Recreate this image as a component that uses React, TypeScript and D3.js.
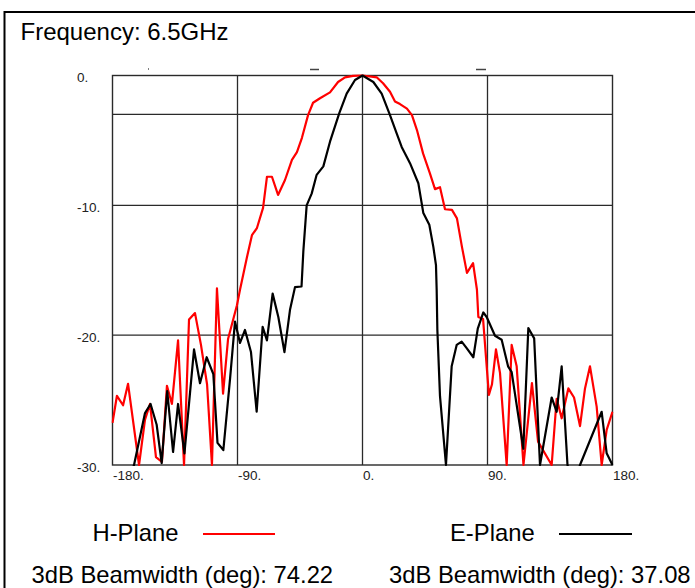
import React from "react";
import * as d3 from "d3";

// ---- Data ----
const hAngles = [-180,-176.8,-172.4,-168.8,-160.9,-156.6,-153,-148.7,-144.4,-140.8,-137.2,-132.8,-128.5,-124.9,-120.6,-116.3,-111.9,-108.4,-104.8,-100.4,-96.8,-90.4,-88.2,-83.2,-79.6,-76,-71.6,-68.8,-65.2,-60.8,-55.8,-50.8,-47.2,-43.6,-39.2,-35.6,-30.6,-23.4,-17.6,-12.6,-6.8,0,10.4,14.8,19.8,23.4,27,32,35.6,39.2,43.6,48.6,52.2,55.8,59.4,64.4,68,71.6,75.2,79.6,82.4,83.4,86.8,91,93.2,96.1,99,103.8,107.4,111,115.9,122,126.4,136.2,139.8,143.4,148.2,152.3,156.6,160.2,163.8,168.6,172.2,175.8,180];
const hValues = [-26.75,-24.67,-25.4,-23.75,-30,-26.5,-25.3,-29.4,-29.75,-23.9,-25.3,-20.4,-30,-18.8,-18.3,-20.75,-23.8,-30,-16.4,-24.5,-20.3,-17.7,-16.5,-14,-12.3,-11.75,-10.2,-7.8,-7.8,-9.2,-8.05,-6.5,-5.9,-4.8,-3.05,-2.1,-1.75,-1.3,-0.5,-0.15,-0.03,0,-0.15,-0.6,-1.25,-2.0,-2.2,-2.55,-3.05,-4.2,-6.0,-7.55,-8.75,-8.6,-10.3,-10.35,-11,-13.2,-15.2,-14.45,-16.5,-18.6,-18.75,-24.6,-23.8,-21.1,-22.9,-30,-20.75,-22.4,-30,-23.7,-28.2,-30,-24.9,-26.4,-24.1,-24.8,-27,-24.1,-22.4,-25.5,-30,-27.3,-25.9];

const eAngles = [-180,-170,-164.5,-156.6,-152.6,-148.2,-144.6,-140.6,-136.4,-132.8,-128.2,-121.3,-117,-112.2,-107.4,-104.4,-100.2,-95.4,-91.8,-88.2,-84.6,-80.3,-76.2,-71.9,-68.8,-64.7,-60.6,-56.2,-52.2,-48.6,-43.9,-42.6,-40.2,-36.6,-33,-28.2,-23.4,-16.7,-11.4,-5.4,0,7.8,13.8,19.8,24.6,28.2,34.2,40.2,43.8,48.1,51,52.9,53.4,53.9,55.8,60.1,64.2,67.8,71.4,75,79.8,83,87,89.4,95.4,100.2,104.8,107.4,115.8,119.4,123.6,127.8,136.2,139.8,143.4,147.6,151.6,156.6,172.2,175.8,180];
const eValues = [-33,-31.5,-30,-26,-25.3,-26.9,-29.85,-24.3,-29,-25.3,-29.1,-21.1,-23.7,-21.7,-23,-28.3,-28.85,-23.4,-18.95,-20.6,-19.6,-21.3,-25.9,-19.35,-20.4,-16.8,-18.6,-21.3,-18.05,-16.3,-16.25,-13.55,-10,-9.1,-7.65,-7.0,-5.1,-2.9,-1.4,-0.35,0,-0.5,-1.4,-3.05,-4.45,-5.5,-6.75,-8.3,-10.6,-11.5,-13.2,-14.6,-16.5,-19.6,-24.7,-30,-22.4,-20.75,-20.5,-21,-21.7,-19.5,-18.25,-18.6,-20.05,-20.35,-22.4,-22.85,-28.75,-19.45,-20.25,-30,-24.8,-25.9,-22.4,-30,-31.5,-30,-25.9,-29.1,-30];

const xTicks = [-180, -90, 0, 90, 180];
const xTickLabels = ["-180.", "-90.", "0.", "90.", "180."];
const yTicks = [0, -10, -20, -30];
const yTickLabels = ["0.", "-10.", "-20.", "-30."];
const xGrid = [-90, 0, 90];
const yGrid = [-3, -10, -20];

const title = "Frequency: 6.5GHz";
const seriesNames = ["H-Plane", "E-Plane"];
const beamwidths = ["74.22", "37.08"];

const FONT = "'Liberation Sans', Arial, Helvetica, sans-serif";

export default function App() {
  const x = d3.scaleLinear().domain([-180, 180]).range([112.5, 612.5]);
  const y = d3.scaleLinear().domain([-30, 0]).range([465, 75.5]);
  const line = d3
    .line<[number, number]>()
    .x((d) => x(d[0]))
    .y((d) => y(d[1]));
  const hData = hAngles.map((a, i) => [a, hValues[i]] as [number, number]);
  const eData = eAngles.map((a, i) => [a, eValues[i]] as [number, number]);

  const [x0, x1] = x.range();
  const yb = y(-30);
  const yt = y(0);
  const gridColor = "#2a2a2a";

  return (
    <svg
      width={695}
      height={588}
      style={{ position: "absolute", left: 0, top: 0, background: "#fff" }}
    >
      <defs>
        <clipPath id="plotClip">
          <rect x={x0 - 1} y={yt - 3} width={x1 - x0 + 2} height={yb - yt + 4} />
        </clipPath>
      </defs>
      {/* outer frame */}
      <rect x={4.5} y={12} width={720} height={600} fill="none" stroke="#000" strokeWidth={2} />
      <text x={20.5} y={40} fontFamily={FONT} fontSize={24} fill="#000">
        {title}
      </text>

      {/* stray marks above plot */}
      <line x1={148} x2={149} y1={69} y2={69} stroke="#555" strokeWidth={1.5} />
      <line x1={310} x2={319} y1={69.5} y2={69.5} stroke="#444" strokeWidth={1.5} />
      <line x1={476} x2={486} y1={69.5} y2={69.5} stroke="#444" strokeWidth={1.5} />

      {/* grid */}
      {xGrid.map((g) => (
        <line key={"xg" + g} x1={x(g)} x2={x(g)} y1={yt} y2={yb} stroke={gridColor} strokeWidth={1.3} />
      ))}
      {yGrid.map((g) => (
        <line key={"yg" + g} x1={x0} x2={x1} y1={y(g)} y2={y(g)} stroke={gridColor} strokeWidth={1.3} />
      ))}
      <rect x={x0} y={yt} width={x1 - x0} height={yb - yt} fill="none" stroke={gridColor} strokeWidth={1.4} />

      {/* tick labels */}
      {yTicks.map((t, i) => (
        <text key={"yt" + t} x={77} y={y(t) + 6.5} fontFamily={FONT} fontSize={13.5} fill="#222">
          {yTickLabels[i]}
        </text>
      ))}
      {xTicks.map((t, i) => (
        <text key={"xt" + t} x={x(t) + 0.5} y={480} fontFamily={FONT} fontSize={13.5} fill="#222">
          {xTickLabels[i]}
        </text>
      ))}

      {/* curves */}
      <g clipPath="url(#plotClip)">
        <path d={line(hData) || ""} fill="none" stroke="#ff0000" strokeWidth={2.2} strokeLinejoin="round" />
        <path d={line(eData) || ""} fill="none" stroke="#000" strokeWidth={2.2} strokeLinejoin="round" />
      </g>

      {/* legend */}
      <text x={92.5} y={540.5} fontFamily={FONT} fontSize={23.8} fill="#000">
        {seriesNames[0]}
      </text>
      <line x1={203} x2={275} y1={534} y2={534} stroke="#ff0000" strokeWidth={2} />
      <text x={450} y={540.5} fontFamily={FONT} fontSize={23.8} fill="#000">
        {seriesNames[1]}
      </text>
      <line x1={559} x2={632} y1={534} y2={534} stroke="#000" strokeWidth={2} />
      <text x={31.5} y={582.5} fontFamily={FONT} fontSize={23.8} fill="#000">
        {"3dB Beamwidth (deg): " + beamwidths[0]}
      </text>
      <text x={389} y={582.5} fontFamily={FONT} fontSize={23.8} fill="#000">
        {"3dB Beamwidth (deg): " + beamwidths[1]}
      </text>
    </svg>
  );
}
